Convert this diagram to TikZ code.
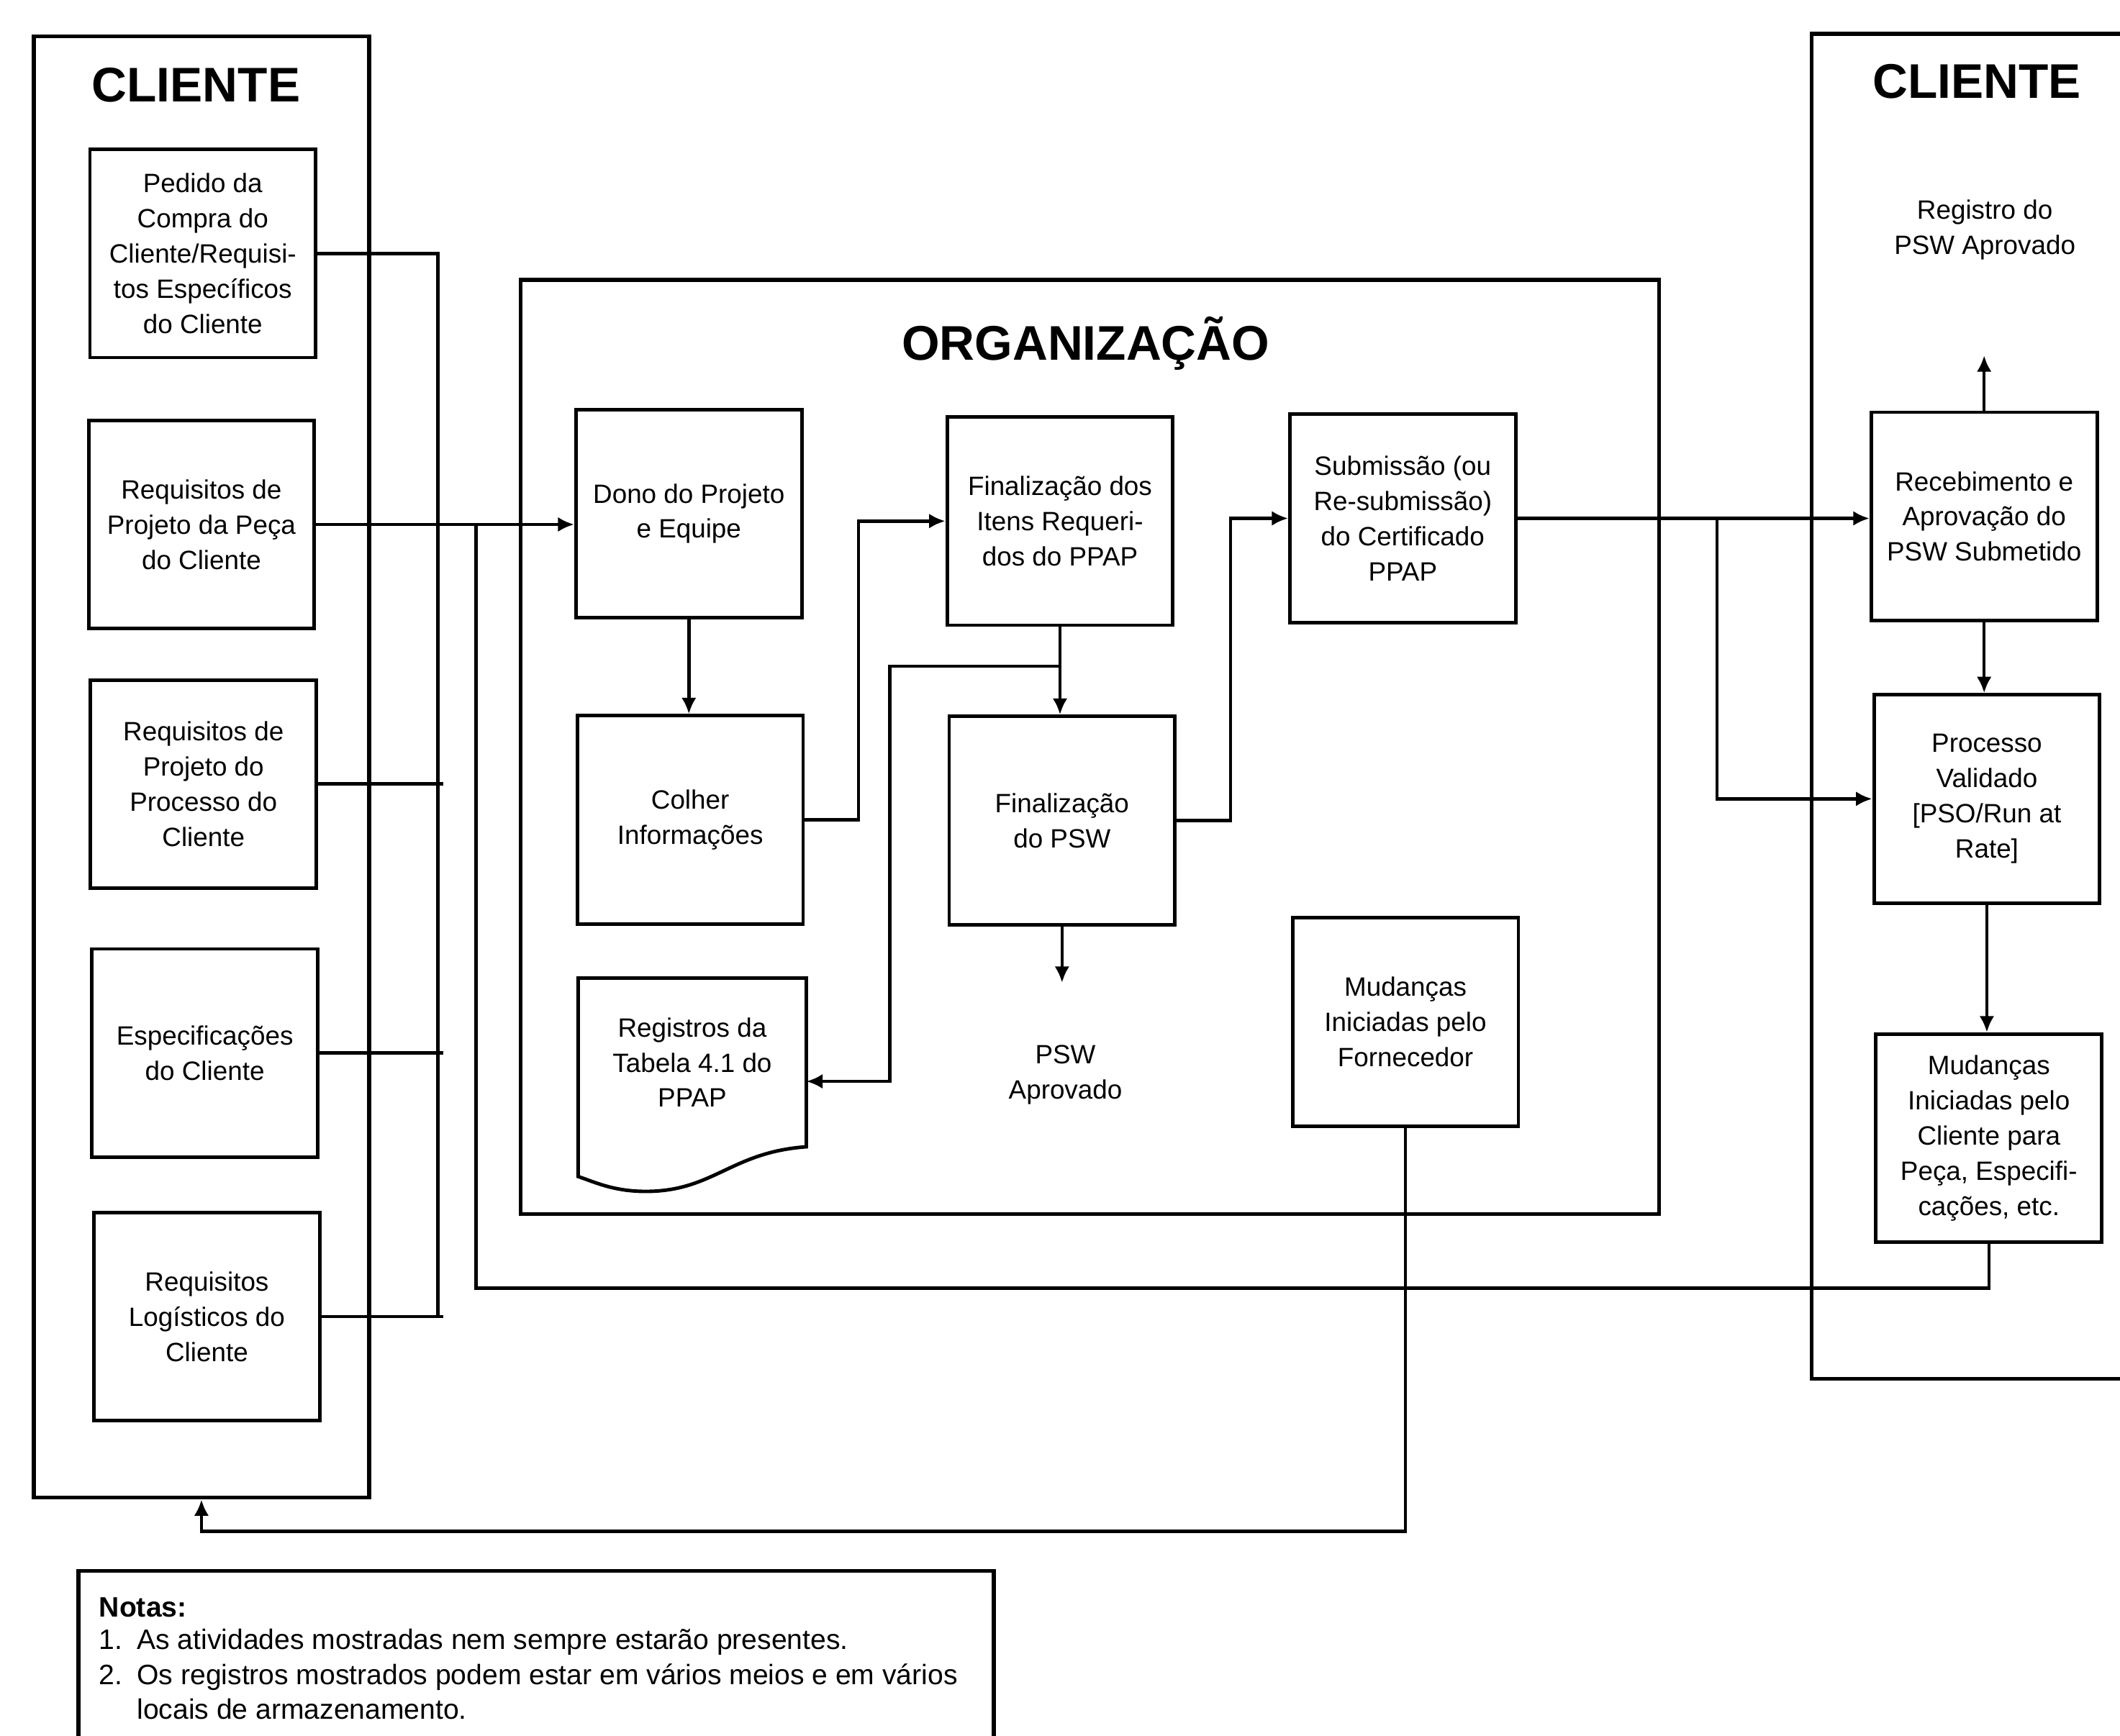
\documentclass[tikz,border=0pt]{standalone}
\usepackage{fontspec}
\setmainfont{Liberation Sans}
\usetikzlibrary{arrows.meta}
\newcommand\bxf{\fontsize{9.8}{13}\selectfont}
\newcommand\ttlf{\fontsize{18}{20}\selectfont\bfseries}
\newcommand\ntf{\fontsize{10.4}{13}\selectfont}
\begin{document}
\begin{tikzpicture}[x=0.5pt,y=-0.5pt,
  bx/.style={draw, line width=1.3pt, minimum width=83.5pt, minimum height=77pt, align=center, inner sep=1pt, font=\bxf},
  lbl/.style={align=center, font=\bxf, inner sep=1pt},
  ttl/.style={font=\ttlf, inner sep=0pt},
  cont/.style={draw, line width=1.4pt},
  ln/.style={line width=1.2pt},
  arr/.style={line width=1.2pt, -{Latex[length=6pt,width=5.5pt]}},
  nt/.style={anchor=base west, font=\ntf, inner sep=0pt}]
\useasboundingbox (0,0) rectangle (1568,1284);
\fill[white] (0,0) rectangle (1568,1284);

% containers
\node[cont, minimum width=124pt, minimum height=540.5pt] (CL) at (149,567.5) {};
\node[ttl] (CLt) at (145,63) {CLIENTE};
\node[cont, minimum width=421pt, minimum height=345.5pt] (ORG) at (806,552.5) {};
\node[ttl] (ORGt) at (803,254) {ORGANIZAÇÃO};
\draw[cont] (1580,25) -- (1340,25) -- (1340,1020) -- (1580,1020);
\node[ttl] (CRt) at (1462,60) {CLIENTE};

% left client boxes
\node[bx] (L1) at (150,187.5) {Pedido da\\Compra do\\Cliente/Requisi-\\tos Específicos\\do Cliente};
\node[bx] (L2) at (149,388) {Requisitos de\\Projeto da Peça\\do Cliente};
\node[bx] (L3) at (150.5,580) {Requisitos de\\Projeto do\\Processo do\\Cliente};
\node[bx] (L4) at (151.5,779) {Especificações\\do Cliente};
\node[bx] (L5) at (153,974) {Requisitos\\Logísticos do\\Cliente};

% organization boxes
\node[bx] (DONO) at (509.5,380) {Dono do Projeto\\e Equipe};
\node[bx] (COL) at (510.5,606.5) {Colher\\Informações};
\node[lbl, minimum width=84pt, minimum height=62pt] (REG) at (512,786) {Registros da\\Tabela 4.1 do\\PPAP};
\draw[line width=1.3pt] (REG.north west) -- (REG.north east) -- (REG.south east)
  .. controls +(-28pt,-2pt) and +(25pt,0pt) .. ([xshift=25pt,yshift=-16.5pt]REG.south west)
  .. controls +(-12pt,0pt) and +(6pt,-2pt) .. ([yshift=-11pt]REG.south west) -- cycle;
\node[bx] (FI) at (784,385.5) {Finalização dos\\Itens Requeri-\\dos do PPAP};
\node[bx] (FP) at (785.5,607) {Finalização\\do PSW};
\node[lbl] (PSWA) at (788,795) {PSW\\Aprovado};
\node[bx] (SUB) at (1037.5,383.5) {Submissão (ou\\Re-submissão)\\do Certificado\\PPAP};
\node[bx] (MF) at (1039.5,756) {Mudanças\\Iniciadas pelo\\Fornecedor};

% right client
\node[lbl] (RPA) at (1468,170) {Registro do\\PSW Aprovado};
\node[bx] (REC) at (1467.5,382) {Recebimento e\\Aprovação do\\PSW Submetido};
\node[bx] (PROC) at (1469.5,591) {Processo\\Validado\\{[PSO/Run at}\\Rate]};
\node[bx] (MC) at (1471,842) {Mudanças\\Iniciadas pelo\\Cliente para\\Peça, Especifi-\\cações, etc.};

% connectors: client inputs
\coordinate (B) at (324,187.5);
\draw[ln] (L1.east) -- (B) -- (B |- L5.east);
\draw[ln] (L3.east) -- ([xshift=2pt]L3.east -| B);
\draw[ln] (L4.east) -- ([xshift=2pt]L4.east -| B);
\draw[ln] (L5.east) -- ([xshift=2pt]L5.east -| B);
\draw[arr] (L2.east) -- (L2.east -| DONO.west);
\coordinate (FB) at (352,953);
\draw[ln] (MC.south) |- (FB) -- (FB |- L2.east);
\coordinate (RET) at (149,1133);
\draw[arr] (MF.south) |- (RET) -- (RET |- CL.south);

% organization flow
\draw[arr] (DONO.south) -- (DONO.south |- COL.north);
\coordinate (K1) at (635,0);
\draw[arr] (COL.east) -- (COL.east -| K1) |- (FI.west);
\draw[arr] (FI.south) -- (FI.south |- FP.north);
\coordinate (J1) at ([yshift=-14.5pt]FI.south);
\coordinate (K2) at (658,0);
\draw[arr] (J1) -- (J1 -| K2) |- ([yshift=-7pt]REG.east);
\coordinate (PE) at (785.5,727);
\draw[arr] (FP.south) -- (PE);
\coordinate (K3) at (910,0);
\draw[arr] (FP.east) -- (FP.east -| K3) |- (SUB.west);
\draw[arr] (SUB.east) -- (SUB.east -| REC.west);
\coordinate (K4) at (1270,0);
\draw[arr] (SUB.east -| K4) |- (PROC.west);

% right client flow
\coordinate (RU) at (1467.5,263);
\draw[arr] (REC.north) -- (RU);
\draw[arr] (REC.south) -- (REC.south |- PROC.north);
\draw[arr] (PROC.south) -- (PROC.south |- MC.north);

% notes
\draw[cont] (58,1300) -- (58,1162) -- (735,1162) -- (735,1300);
\node[nt, font=\ntf\bfseries] (N0) at (73,1196) {Notas:};
\node[nt] (N1) at (73,1220) {\makebox[14pt][l]{1.}As atividades mostradas nem sempre estarão presentes.};
\node[nt] (N2) at (73,1246) {\makebox[14pt][l]{2.}Os registros mostrados podem estar em vários meios e em vários};
\node[nt] (N3) at (73,1272) {\hspace*{14pt}locais de armazenamento.};
\end{tikzpicture}
\end{document}
